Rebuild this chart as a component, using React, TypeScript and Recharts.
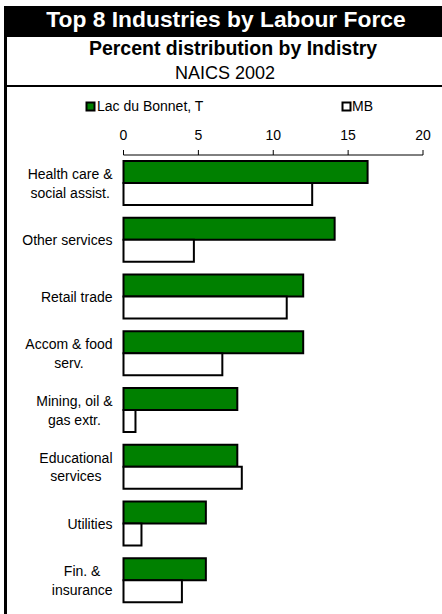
import React from 'react';
import { BarChart, Bar, XAxis, YAxis } from 'recharts';

const categories = [
  'Health care &\nsocial assist.',
  'Other services',
  'Retail trade',
  'Accom & food\nserv.',
  'Mining, oil &\ngas extr.',
  'Educational\nservices',
  'Utilities',
  'Fin. &\ninsurance',
];
const lacDuBonnet = [16.3, 14.1, 12.0, 12.0, 7.6, 7.6, 5.5, 5.5];
const manitoba = [12.6, 4.7, 10.9, 6.6, 0.8, 7.9, 1.2, 3.9];
const xTicks = [0, 5, 10, 15, 20];
const bandEdges = [0, 1, 2, 3, 4, 5, 6, 7, 8];
const seriesNames = ['Lac du Bonnet, T', 'MB'];
const seriesColors = ['#008000', '#ffffff'];
const titleText = 'Top 8 Industries by Labour Force';
const subtitleText = 'Percent distribution by Indistry';
const subtitle2Text = 'NAICS 2002';

const data = categories.map((c, i) => ({ name: c, lac: lacDuBonnet[i], mb: manitoba[i] }));

const FONT = '"Liberation Sans", Arial, Helvetica, sans-serif';

let ctx: CanvasRenderingContext2D | null = null;
function measure(t: string): number {
  if (!ctx) {
    const c = document.createElement('canvas');
    ctx = c.getContext('2d');
  }
  if (!ctx) return t.length * 7;
  ctx.font = `14px "Liberation Sans", Arial, sans-serif`;
  return ctx.measureText(t).width;
}

const CategoryTick = (props: any) => {
  const { x, y, payload } = props;
  const lines = String(payload.value).split('\n');
  const w = Math.max(...lines.map(measure));
  const cx = x - w / 2;
  const lh = 18.5;
  const y0 = y - ((lines.length - 1) * lh) / 2 + 5;
  return (
    <text x={cx} y={y0} textAnchor="middle" fontSize={14} fontFamily={FONT} fill="#000">
      {lines.map((l, i) => (
        <tspan key={i} x={cx} y={y0 + i * lh}>
          {l}
        </tspan>
      ))}
    </text>
  );
};

export default function App() {
  return (
    <div
      style={{
        position: 'absolute',
        left: 0,
        top: 0,
        width: 442,
        height: 614,
        background: '#fff',
        overflow: 'hidden',
        fontFamily: FONT,
      }}
    >
      <div style={{ position: 'absolute', left: 0, top: 0 }}>
        <BarChart
          width={442}
          height={614}
          data={data}
          layout="vertical"
          margin={{ top: 125, right: 19, bottom: 5, left: 13.5 }}
          barCategoryGap={6}
          barGap={0}
        >
          <XAxis
            type="number"
            orientation="top"
            domain={[0, 20]}
            ticks={xTicks}
            height={30}
            tickSize={5}
            tickMargin={10}
            axisLine={{ stroke: '#000', strokeWidth: 1 }}
            tickLine={{ stroke: '#000', strokeWidth: 1 }}
            tick={{ fill: '#000', fontSize: 14, fontFamily: FONT }}
          />
          <YAxis
            yAxisId="cat"
            type="category"
            dataKey="name"
            width={110}
            axisLine={false}
            tickLine={false}
            tickSize={0}
            tickMargin={11}
            interval={0}
            tick={<CategoryTick />}
          />
          <YAxis
            yAxisId="edges"
            type="number"
            domain={[0, 8]}
            ticks={bandEdges}
            allowDataOverflow
            mirror
            width={0}
            tickSize={-4}
            tick={false}
            tickLine={{ stroke: '#000', strokeWidth: 1 }}
            axisLine={{ stroke: '#000', strokeWidth: 1 }}
          />
          <Bar
            yAxisId="cat"
            dataKey="lac"
            name={seriesNames[0]}
            fill={seriesColors[0]}
            stroke="#000"
            strokeWidth={2}
            isAnimationActive={false}
          />
          <Bar
            yAxisId="cat"
            dataKey="mb"
            name={seriesNames[1]}
            fill={seriesColors[1]}
            stroke="#000"
            strokeWidth={2}
            isAnimationActive={false}
          />
        </BarChart>
      </div>
      <svg
        width={442}
        height={614}
        style={{ position: 'absolute', left: 0, top: 0, pointerEvents: 'none' }}
      >
        <rect x={4} y={6} width={438} height={31} fill="#000" />
        <rect x={4} y={6} width={3} height={608} fill="#000" />
        <rect x={4} y={85} width={438} height={2} fill="#000" />
        <text x={226} y={27} textAnchor="middle" fill="#fff" fontWeight="bold" fontSize={22.8} fontFamily={FONT}>
          {titleText}
        </text>
        <text x={233} y={55} textAnchor="middle" fill="#000" fontWeight="bold" fontSize={19.5} fontFamily={FONT}>
          {subtitleText}
        </text>
        <text x={225} y={79} textAnchor="middle" fill="#000" fontSize={18} fontFamily={FONT}>
          {subtitle2Text}
        </text>
        <rect x={86.5} y={102.5} width={8} height={8} fill={seriesColors[0]} stroke="#000" strokeWidth={2} />
        <text x={97} y={111} fontSize={14} fontFamily={FONT} fill="#000">
          {seriesNames[0]}
        </text>
        <rect x={342.5} y={102.5} width={8} height={8} fill={seriesColors[1]} stroke="#000" strokeWidth={2} />
        <text x={352} y={111} fontSize={14} fontFamily={FONT} fill="#000">
          {seriesNames[1]}
        </text>
      </svg>
    </div>
  );
}
